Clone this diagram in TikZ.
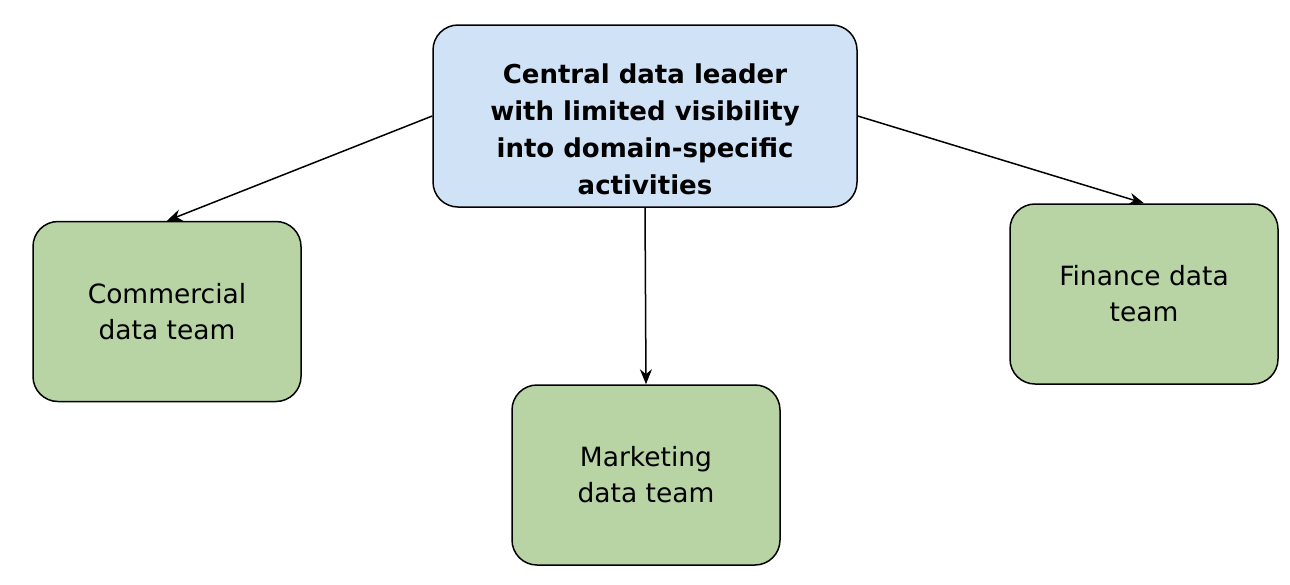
\documentclass[tikz,border=0pt]{standalone}
\usepackage{fontspec}
\setmainfont{DejaVu Sans}
\usepackage{tikz}
\usetikzlibrary{arrows.meta}

\definecolor{leaderblue}{HTML}{D0E2F6}
\definecolor{teamgreen}{HTML}{B8D4A5}

\tikzset{
  leaderbox/.style={draw=black, line width=1.5pt, rounded corners=25pt, fill=leaderblue,
    minimum width=424pt, minimum height=182pt},
  leadertext/.style={align=center, font=\fontsize{26}{37}\selectfont\bfseries},
  teambox/.style={draw=black, line width=1.5pt, rounded corners=25pt, fill=teamgreen,
    minimum width=268pt, minimum height=180pt, align=center,
    font=\fontsize{26.5}{36}\selectfont},
  link/.style={draw=black, line width=1.5pt, -{Stealth[length=15pt,width=12pt]}}
}

\begin{document}
\begin{tikzpicture}[x=1pt,y=-1pt]
  \useasboundingbox (0,0) rectangle (1290,584);

  \node[leaderbox] (leader) at (645,116) {};
  \node[leadertext] (leadertxt) at (645,129) {Central data leader\\with limited visibility\\into domain-specific\\activities};

  \node[teambox] (commercial) at (167,311.5) {Commercial\\data team};
  \node[teambox] (marketing) at (646,475) {Marketing\\data team};
  \node[teambox] (finance) at (1144,294) {Finance data\\team};

  \draw[link] (leader.west) -- (commercial.north);
  \draw[link] (leader.south) -- (marketing.north);
  \draw[link] (leader.east) -- (finance.north);
\end{tikzpicture}
\end{document}
